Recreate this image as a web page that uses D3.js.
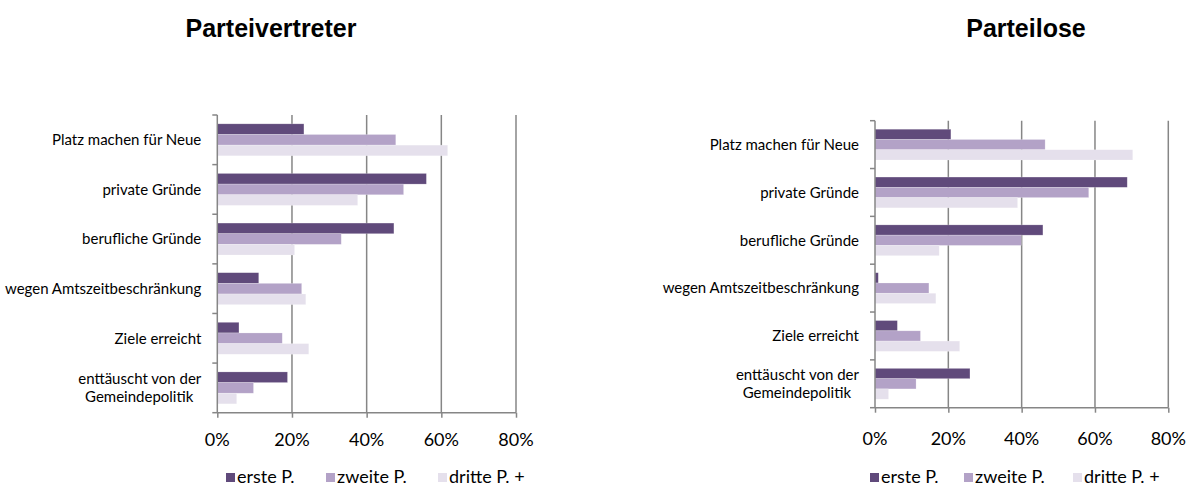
<!DOCTYPE html>
<html>
<head>
<meta charset="utf-8">
<script src="https://cdn.jsdelivr.net/npm/d3@7"></script>
<style>
  html, body { margin: 0; padding: 0; background: #fff; }
  svg { display: block; }
</style>
</head>
<body>
<svg id="chart" width="1195" height="490"></svg>
<script>
// Reasons for leaving office, by candidate group (share of respondents)
const categories = [
  "Platz machen für Neue",
  "private Gründe",
  "berufliche Gründe",
  "wegen Amtszeitbeschränkung",
  "Ziele erreicht",
  "enttäuscht von der\nGemeindepolitik"
];
const seriesNames = ["erste P.", "zweite P.", "dritte P. +"];
const seriesColors = ["#604A7B", "#B3A2C7", "#E5E0EC"];
const tickValues = [0, 0.2, 0.4, 0.6, 0.8];

// Parteivertreter
const vertreterErste  = [0.232, 0.560, 0.473, 0.111, 0.058, 0.188];
const vertreterZweite = [0.478, 0.499, 0.332, 0.226, 0.174, 0.097];
const vertreterDritte = [0.617, 0.376, 0.207, 0.237, 0.245, 0.052];

// Parteilose
const loseErste  = [0.207, 0.688, 0.458, 0.009, 0.061, 0.259];
const loseZweite = [0.464, 0.583, 0.399, 0.147, 0.124, 0.112];
const loseDritte = [0.703, 0.389, 0.175, 0.166, 0.231, 0.037];

const panels = [
  { title: "Parteivertreter", series: [vertreterErste, vertreterZweite, vertreterDritte],
    x0: 217.3, x1: 516, y0: 115, y1: 412.7, titleX: 271, tickY: 446,
    legendX: [226, 326, 438], legendY: 477 },
  { title: "Parteilose", series: [loseErste, loseZweite, loseDritte],
    x0: 875, x1: 1168.3, y0: 120.7, y1: 407.7, titleX: 1026, tickY: 445,
    legendX: [870, 964, 1073], legendY: 477 }
];

const svg = d3.select("#chart");
const labelFont = "Lato, 'Open Sans', sans-serif";
const gridColor = "#868686";

panels.forEach(p => {
  const g = svg.append("g");

  const x = d3.scaleLinear().domain([0, 0.8]).range([p.x0, p.x1]);
  const y = d3.scaleBand().domain(categories).range([p.y0, p.y1]).padding(0);
  const inner = d3.scaleBand().domain(d3.range(seriesNames.length))
    .range([0, y.bandwidth()]).paddingInner(0).paddingOuter(0.83);

  // title
  g.append("text")
    .attr("x", p.titleX).attr("y", 37)
    .attr("text-anchor", "middle")
    .style("font-family", "Arial, 'Liberation Sans', sans-serif")
    .style("font-weight", "bold").style("font-size", "25px")
    .text(p.title);

  // vertical gridlines
  g.append("g").selectAll("line").data(tickValues.slice(1)).join("line")
    .attr("x1", d => x(d)).attr("x2", d => x(d))
    .attr("y1", p.y0).attr("y2", p.y1)
    .attr("stroke", gridColor).attr("stroke-width", 1.5);

  // bars
  const rows = categories.map((c, i) => ({ c, vals: p.series.map(s => s[i]) }));
  const rowG = g.append("g").selectAll("g").data(rows).join("g")
    .attr("transform", d => `translate(0,${y(d.c)})`);
  rowG.selectAll("rect").data(d => d.vals.map((v, k) => ({ v, k }))).join("rect")
    .attr("x", x(0))
    .attr("y", d => inner(d.k))
    .attr("width", d => x(d.v) - x(0))
    .attr("height", inner.bandwidth())
    .attr("fill", d => seriesColors[d.k])
    .attr("stroke", "#fff").attr("stroke-opacity", 0.35).attr("stroke-width", 0.6);

  // x axis (bottom) with outward ticks
  const xAxis = d3.axisBottom(x).tickValues(tickValues).tickSize(5).tickFormat("");
  const xa = g.append("g").attr("transform", `translate(0,${p.y1})`).call(xAxis);
  xa.select(".domain").attr("stroke", gridColor).attr("stroke-width", 1.5)
    .attr("d", `M${p.x0},0H${p.x1}`);
  xa.selectAll(".tick line").attr("stroke", gridColor).attr("stroke-width", 1.5);

  g.append("g").selectAll("text").data(tickValues).join("text")
    .attr("x", d => x(d)).attr("y", p.tickY)
    .attr("text-anchor", "middle")
    .style("font-family", labelFont).style("font-size", "18px").attr("fill", "#000")
    .text(d => d3.format(".0%")(d));

  // y axis with category boundary ticks
  const yTicks = d3.range(categories.length + 1).map(i => p.y0 + i * y.step());
  g.append("line").attr("x1", p.x0).attr("x2", p.x0).attr("y1", p.y0).attr("y2", p.y1)
    .attr("stroke", gridColor).attr("stroke-width", 1.5);
  g.append("g").selectAll("line").data(yTicks).join("line")
    .attr("x1", p.x0 - 5).attr("x2", p.x0).attr("y1", d => d).attr("y2", d => d)
    .attr("stroke", gridColor).attr("stroke-width", 1.5);

  // category labels
  categories.forEach(c => {
    const lines = c.split("\n");
    const cy = y(c) + y.bandwidth() / 2;
    const lh = 18;
    lines.forEach((ln, i) => {
      g.append("text")
        .attr("x", p.x0 - 16 - (i > 0 ? 8 : 0))
        .attr("y", cy + (i - (lines.length - 1) / 2) * lh)
        .attr("dy", "0.35em")
        .attr("text-anchor", "end")
        .style("font-family", labelFont).style("font-size", "15px").attr("fill", "#000")
        .text(ln);
    });
  });

  // legend
  seriesNames.forEach((n, k) => {
    g.append("rect")
      .attr("x", p.legendX[k]).attr("y", p.legendY - 4)
      .attr("width", 9).attr("height", 9)
      .attr("fill", seriesColors[k]);
    g.append("text")
      .attr("x", p.legendX[k] + 11).attr("y", p.legendY)
      .attr("dy", "0.35em")
      .style("font-family", labelFont).style("font-size", "18px").attr("fill", "#000")
      .text(n);
  });
});
</script>
</body>
</html>
